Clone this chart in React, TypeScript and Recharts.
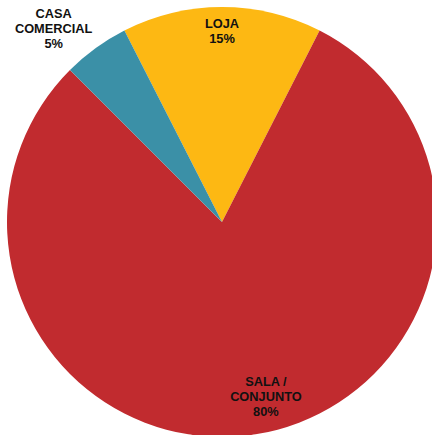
import React from 'react';
import { PieChart, Pie, Cell } from 'recharts';

const categories = ['LOJA', 'SALA /\nCONJUNTO', 'CASA\nCOMERCIAL'];
const shares = [15, 80, 5];
const colors = ['#FDB813', '#C12B2F', '#3B90A7'];

const data = categories.map((name, i) => ({ name, value: shares[i] }));

const RADIAN = Math.PI / 180;

// small slices get their label outside, like the original "best fit"
const renderLabel = (props: any) => {
  const { cx, cy, midAngle, outerRadius, percent, index, name } = props;
  const outside = percent < 0.1;
  const r = outside ? outerRadius * 1.15 : outerRadius * 0.86;
  let x = cx + r * Math.cos(-midAngle * RADIAN);
  let y = cy + r * Math.sin(-midAngle * RADIAN);
  if (outside) {
    x -= 23;
    y += 6;
  } else if (percent > 0.5) {
    x += 15;
    y -= 9;
  } else {
    y -= 7;
  }
  const lines = [...String(name).split('\n'), `${Math.round(percent * 100)}%`];
  const lh = 15;
  const y0 = y - ((lines.length - 1) * lh) / 2;
  return (
    <text
      key={index}
      x={x}
      y={y0}
      textAnchor="middle"
      dominantBaseline="central"
      fill="#111"
      fontSize={12.8}
      fontWeight="bold"
      fontFamily="'Liberation Sans', Arial, sans-serif"
    >
      {lines.map((l, i) => (
        <tspan key={i} x={x} dy={i === 0 ? 0 : lh}>
          {l}
        </tspan>
      ))}
    </text>
  );
};

const App: React.FC = () => {
  return (
    <div style={{ position: 'absolute', left: 0, top: 0, width: 432, height: 435, background: '#fff', overflow: 'hidden' }}>
      <PieChart width={432} height={435} margin={{ top: 0, right: 0, bottom: 0, left: 0 }}>
        <Pie
          data={data}
          dataKey="value"
          nameKey="name"
          cx={222}
          cy={222}
          outerRadius={215}
          startAngle={117}
          endAngle={-243}
          stroke="none"
          label={renderLabel}
          labelLine={false}
          isAnimationActive={false}
        >
          {data.map((d, i) => (
            <Cell key={d.name} fill={colors[i]} />
          ))}
        </Pie>
      </PieChart>
    </div>
  );
};

export default App;
